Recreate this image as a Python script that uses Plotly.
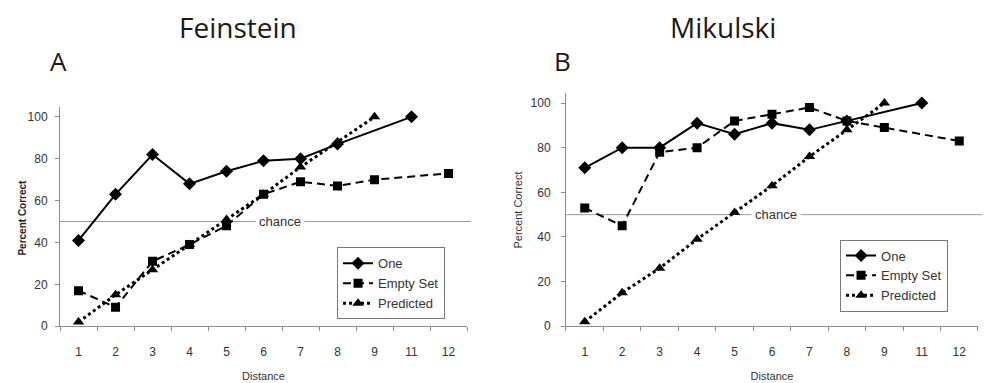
import plotly.graph_objects as go

# Distance categories (no 10 in the design)
distances = ["1", "2", "3", "4", "5", "6", "7", "8", "9", "11", "12"]

# Panel A - Feinstein
fein_one_x = ["1", "2", "3", "4", "5", "6", "7", "8", "11"]
fein_one_y = [41, 63, 82, 68, 74, 79, 80, 87, 100]
fein_empty_x = ["1", "2", "3", "4", "5", "6", "7", "8", "9", "12"]
fein_empty_y = [17, 9, 31, 39, 48, 63, 69, 67, 70, 73]
fein_pred_x = ["1", "2", "3", "4", "5", "6", "7", "8", "9"]
fein_pred_y = [2, 15, 27, 39, 51, 63, 76, 88, 100]

# Panel B - Mikulski
mik_one_x = ["1", "2", "3", "4", "5", "6", "7", "8", "11"]
mik_one_y = [71, 80, 80, 91, 86, 91, 88, 92, 100]
mik_empty_x = ["1", "2", "3", "4", "5", "6", "7", "8", "9", "12"]
mik_empty_y = [53, 45, 78, 80, 92, 95, 98, 92, 89, 83]
mik_pred_x = ["1", "2", "3", "4", "5", "6", "7", "8", "9"]
mik_pred_y = [2, 15, 26, 39, 51, 63, 76, 88, 100]

chance_level = 50
y_ticks = [0, 20, 40, 60, 80, 100]

FONT = "Liberation Sans, Arial, sans-serif"
AXIS_GRAY = "#8c8c8c"
TEXT = "#333333"

fig = go.Figure()


def add_panel(xa, ya, legend, one, empty, pred):
    fig.add_trace(go.Scatter(
        x=one[0], y=one[1], name="One", mode="lines+markers",
        line=dict(color="black", width=2, dash="solid"),
        marker=dict(symbol="diamond", size=10, color="black"),
        xaxis=xa, yaxis=ya, legend=legend))
    fig.add_trace(go.Scatter(
        x=empty[0], y=empty[1], name="Empty Set", mode="lines+markers",
        line=dict(color="black", width=2, dash="8px,5px"),
        marker=dict(symbol="square", size=9, color="black"),
        xaxis=xa, yaxis=ya, legend=legend))
    fig.add_trace(go.Scatter(
        x=pred[0], y=pred[1], name="Predicted", mode="lines+markers",
        line=dict(color="black", width=3, dash="dot"),
        marker=dict(symbol="triangle-up", size=10, color="black"),
        xaxis=xa, yaxis=ya, legend=legend))


add_panel("x", "y", "legend",
          (fein_one_x, fein_one_y), (fein_empty_x, fein_empty_y), (fein_pred_x, fein_pred_y))
add_panel("x2", "y2", "legend2",
          (mik_one_x, mik_one_y), (mik_empty_x, mik_empty_y), (mik_pred_x, mik_pred_y))

xaxis_common = dict(
    type="category", categoryorder="array", categoryarray=distances,
    range=[-0.5, len(distances) - 0.5], tickson="boundaries",
    showline=True, linecolor=AXIS_GRAY, linewidth=1, ticks="outside",
    ticklen=4, tickcolor=AXIS_GRAY, showgrid=False, zeroline=False,
    ticklabelstandoff=14,
    tickfont=dict(family=FONT, size=12, color=TEXT),
    title=dict(text="Distance", font=dict(family=FONT, size=11, color=TEXT), standoff=14),
)
yaxis_common = dict(
    tickvals=y_ticks, showline=True, linecolor=AXIS_GRAY, linewidth=1,
    ticks="outside", ticklen=4, tickcolor=AXIS_GRAY, showgrid=False,
    zeroline=False, tickfont=dict(family=FONT, size=12, color=TEXT),
)

fig.update_layout(
    width=984, height=383, margin=dict(l=0, r=0, t=0, b=0),
    paper_bgcolor="white", plot_bgcolor="white",
    xaxis=dict(domain=[0.061, 0.4746], anchor="y", **xaxis_common),
    yaxis=dict(domain=[0.1324, 0.7154], anchor="x", range=[0, 104.7],
               ticklabelstandoff=5, **yaxis_common),
    xaxis2=dict(domain=[0.5752, 0.9939], anchor="y2", **xaxis_common),
    yaxis2=dict(domain=[0.1324, 0.752], anchor="x2", range=[0, 104.4],
                ticklabelstandoff=8, **yaxis_common),
    legend=dict(x=0.3425, y=0.342, xanchor="left", yanchor="top",
                bordercolor="#777777", borderwidth=1, bgcolor="white",
                font=dict(family=FONT, size=13, color=TEXT), tracegroupgap=0,
                itemwidth=30),
    legend2=dict(x=0.8537, y=0.363, xanchor="left", yanchor="top",
                 bordercolor="#777777", borderwidth=1, bgcolor="white",
                 font=dict(family=FONT, size=13, color=TEXT), tracegroupgap=0,
                 itemwidth=30),
)

# Chance reference lines with a label
for xref, yref, label_x in [("x domain", "y", 0.54), ("x2 domain", "y2", 0.51)]:
    fig.add_shape(type="line", xref=xref, yref=yref, x0=0, x1=1.01,
                  y0=chance_level, y1=chance_level,
                  line=dict(color="#9a9a9a", width=1), layer="below")
    fig.add_annotation(xref=xref, yref=yref, x=label_x, y=chance_level,
                       text="chance", showarrow=False, bgcolor="white",
                       font=dict(family=FONT, size=13, color=TEXT),
                       borderpad=3)

# Y-axis titles
fig.add_annotation(xref="paper", yref="paper", x=15 / 984, y=0.42,
                   text="<b>Percent Correct</b>", textangle=-90, showarrow=False,
                   font=dict(family=FONT, size=10, color="#222222"))
fig.add_annotation(xref="paper", yref="paper", x=518 / 984, y=0.44,
                   text="Percent Correct", textangle=-90, showarrow=False,
                   font=dict(family=FONT, size=11, color=TEXT))

# Panel titles and letters
TITLE_FONT = "Open Sans, Noto Sans, sans-serif"
for x, y, txt, size in [(238, 28, "Feinstein", 28), (58, 62, "A", 26),
                        (723, 28, "Mikulski", 28), (562, 62, "B", 26)]:
    fig.add_annotation(xref="paper", yref="paper", x=x / 984, y=1 - y / 383,
                       text=txt, showarrow=False, xanchor="center", yanchor="middle",
                       font=dict(family=TITLE_FONT, size=size, color="#1a1a1a"))

fig.write_html("out.html")
